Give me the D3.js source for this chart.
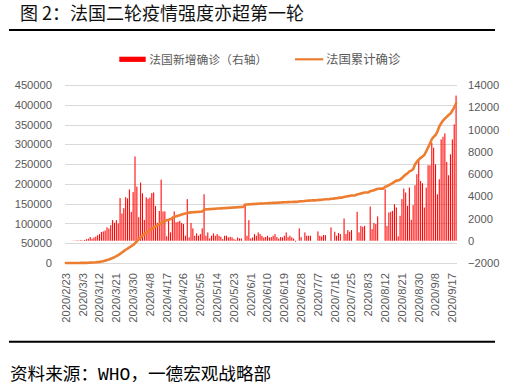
<!DOCTYPE html>
<html><head><meta charset="utf-8">
<script src="https://cdn.jsdelivr.net/npm/d3@7"></script>
<style>
html,body{margin:0;padding:0;background:#fff;}
svg{display:block;}
</style></head>
<body>
<svg id="c" width="519" height="390"></svg>
<script>
// ---- data ----
const fmt = d3.utcFormat("%Y/%-m/%-d");
const dates = d3.utcDay.range(new Date(Date.UTC(2020, 1, 23)), new Date(Date.UTC(2020, 8, 20))).map(fmt);

const tickLabels = ["2020/2/23","2020/3/3","2020/3/12","2020/3/21","2020/3/30","2020/4/8","2020/4/17","2020/4/26","2020/5/5","2020/5/14","2020/5/23","2020/6/1","2020/6/10","2020/6/19","2020/6/28","2020/7/7","2020/7/16","2020/7/25","2020/8/3","2020/8/12","2020/8/21","2020/8/30","2020/9/8","2020/9/17"];

// 法国新增确诊（右轴）
const dailyNew = [
0,0,0,2,20,19,43,30,61,21,
73,138,190,336,177,286,372,497,595,785,
838,924,1210,1097,1404,1861,1617,1847,1559,3838,
2448,2929,3922,3809,4611,2599,4376,7578,4861,2116,
5233,4267,1873,3912,3777,3881,4286,4342,3114,1613,
2673,5497,2633,2641,405,1773,754,2183,2638,1653,
1700,1790,1600,1500,450,3740,300,1600,1110,450,
660,450,600,1110,4180,450,750,210,450,660,
450,600,450,360,150,450,450,300,360,300,
150,90,300,210,210,0,3200,450,1850,210,
300,600,450,750,600,450,300,330,450,300,
330,450,600,330,200,330,300,450,750,330,
450,300,200,-80,0,1110,330,0,750,450,
450,450,0,0,0,840,450,390,510,510,
0,0,1200,0,810,450,690,600,0,2000,
600,960,810,960,0,0,2600,750,1340,1250,
1340,0,0,3080,1050,1590,1500,2190,0,0,
0,4630,1340,2540,2600,2690,3290,2990,400,2240,
3740,4690,4340,3140,4780,1880,3200,4990,5980,7320,
5380,5170,2990,4780,6780,6780,8820,8370,6870,4180,
5530,9110,9350,9650,7080,5890,7770,9110,10460,13050
];

// 法国累计确诊（左轴）
const cumulative = [
12,12,14,18,38,57,100,130,191,212,
285,423,613,949,1126,1412,1784,2281,2876,3661,
4499,6000,7300,8900,10700,12700,14900,17300,20000,23000,
26500,30000,33500,36500,39500,42500,45500,50000,55000,60000,
65000,69500,73000,76500,80000,83500,86500,89500,92300,95000,
97700,100800,104000,106000,107800,109300,111000,113500,116000,118000,
119700,121000,122400,123700,125000,126200,127300,127900,128300,128700,
129000,129300,129600,130000,135200,135600,136000,136300,136600,136900,
137300,137600,137900,138200,138500,138800,139100,139400,139700,140000,
140300,140600,140900,141200,141500,141800,147500,148000,148300,148600,
148900,149200,149500,149800,150100,150300,150600,150900,151100,151400,
151600,151900,152100,152400,152600,152900,153200,153500,153700,154000,
154200,154400,154500,154500,154600,155700,156000,156100,156800,157200,
157700,158100,158200,158300,158400,159300,159700,160100,160600,161100,
161200,161300,162500,162600,163400,163900,164600,165200,165300,167300,
167900,168900,169700,170700,170800,170900,173500,174300,175600,176900,
178200,178300,178400,181500,182500,184100,185600,187800,187900,188000,
188100,192700,194000,196600,199200,201900,205200,208200,208600,210800,
214600,219300,223600,226800,231600,233500,237000,249000,256000,261000,
266000,269000,273000,282000,292000,302000,313000,319000,323500,332000,
345000,353000,360000,365000,369500,374000,378000,385000,393000,404000
];

const leftTicks = [0,50000,100000,150000,200000,250000,300000,350000,400000,450000];
const rightTicks = [-2000,0,2000,4000,6000,8000,10000,12000,14000];

const seriesNames = ["法国新增确诊（右轴）","法国累计确诊"];
const titleText = "图 2：法国二轮疫情强度亦超第一轮";

// ---- drawing ----
const svg = d3.select("#c");
const L = 65, R = 457, T = 85, B = 263;
const gray = "#595959";
const tickFont = "'Liberation Sans', Arial, sans-serif";
const cjk = "'Noto Sans CJK SC', sans-serif";

const x = d3.scaleBand().domain(dates).range([L, R]).padding(0);
const yL = d3.scaleLinear().domain([0, 450000]).range([B, T]);
const yR = d3.scaleLinear().domain([-2000, 14000]).range([B, T]);
const bw = x.bandwidth();

// title
svg.append("text").attr("x", 20).attr("y", 20)
  .attr("font-family", cjk).attr("font-size", 18).attr("fill", "#111")
  .text(titleText);
svg.append("line").attr("x1", 9).attr("x2", 495).attr("y1", 30).attr("y2", 30)
  .attr("stroke", "#000").attr("stroke-width", 2);
svg.append("line").attr("x1", 9).attr("x2", 495).attr("y1", 341.8).attr("y2", 341.8)
  .attr("stroke", "#000").attr("stroke-width", 2);

// source
const src = svg.append("text").attr("x", 10).attr("y", 380)
  .attr("font-family", cjk).attr("font-size", 17.6).attr("fill", "#000");
src.append("tspan").text("资料来源：");
src.append("tspan").attr("font-family", "'Liberation Mono', 'DejaVu Sans Mono', monospace").attr("font-size", 18).text("WHO");
src.append("tspan").text("，一德宏观战略部");

// gridlines
svg.append("g").selectAll("line").data(leftTicks).join("line")
  .attr("x1", L).attr("x2", R)
  .attr("y1", d => Math.round(yL(d)) + 0.5).attr("y2", d => Math.round(yL(d)) + 0.5)
  .attr("stroke", "#D9D9D9").attr("stroke-width", 1);

// left axis
const gL = svg.append("g").attr("transform", `translate(${L},0)`)
  .call(d3.axisLeft(yL).tickValues(leftTicks).tickSize(0).tickPadding(13).tickFormat(d3.format("d")));
gL.select(".domain").remove();
gL.selectAll("text").attr("font-family", tickFont).attr("font-size", 11.2).attr("fill", gray);

// right axis
const gR = svg.append("g").attr("transform", `translate(${R},0)`)
  .call(d3.axisRight(yR).tickValues(rightTicks).tickSize(0).tickPadding(11).tickFormat(d3.format("d")));
gR.select(".domain").remove();
gR.selectAll("text").attr("font-family", tickFont).attr("font-size", 11.2).attr("fill", gray);

// x axis labels (rotated)
svg.append("g").selectAll("text").data(tickLabels).join("text")
  .attr("transform", d => `translate(${x(d) + bw / 2},${B + 10}) rotate(-90)`)
  .attr("text-anchor", "end").attr("dy", "0.35em")
  .attr("font-family", tickFont).attr("font-size", 11.2).attr("fill", gray)
  .text(d => d);

// bars
svg.append("g").selectAll("rect").data(dates).join("rect")
  .attr("x", d => x(d) + bw * 0.22)
  .attr("width", bw * 0.56)
  .attr("y", (d, i) => Math.min(yR(dailyNew[i]), yR(0)))
  .attr("height", (d, i) => Math.abs(yR(dailyNew[i]) - yR(0)))
  .attr("fill", "#FF0000");

// line
const line = d3.line()
  .x((d, i) => x(dates[i]) + bw / 2)
  .y(d => yL(d));
svg.append("path").datum(cumulative)
  .attr("d", line).attr("fill", "none")
  .attr("stroke", "#ED7D31").attr("stroke-width", 2.6)
  .attr("stroke-linejoin", "round").attr("stroke-linecap", "round");

// legend
svg.append("rect").attr("x", 119.3).attr("y", 56.7).attr("width", 26.4).attr("height", 5.2).attr("fill", "#FF0000");
svg.append("text").attr("x", 149.3).attr("y", 59.5).attr("dy", "0.35em")
  .attr("font-family", cjk).attr("font-size", 11.8).attr("fill", gray).text(seriesNames[0]);
svg.append("line").attr("x1", 295).attr("x2", 323.3).attr("y1", 59.3).attr("y2", 59.3)
  .attr("stroke", "#ED7D31").attr("stroke-width", 2.2);
svg.append("text").attr("x", 326).attr("y", 59.5).attr("dy", "0.35em")
  .attr("font-family", cjk).attr("font-size", 12.4).attr("fill", gray).text(seriesNames[1]);
</script>
</body></html>
